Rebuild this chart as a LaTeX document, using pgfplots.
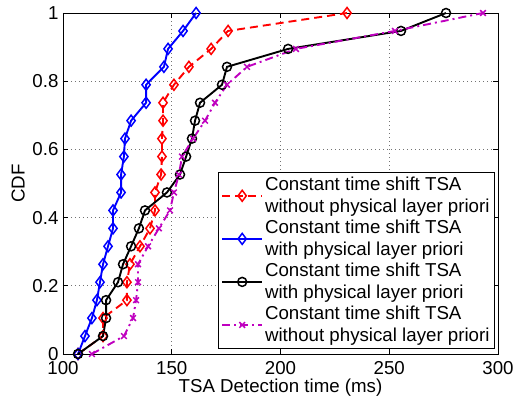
\documentclass[border=0pt]{standalone}
\usepackage{fontspec}
\setmainfont{Liberation Sans}
\usepackage{pgfplots}
\pgfplotsset{compat=1.18}
\definecolor{mymag}{rgb}{0.75,0,0.75}
\newcommand{\bigf}{\fontsize{18.7}{22}\selectfont}
\begin{document}
\begin{tikzpicture}
\useasboundingbox (-63pt,-49pt) rectangle (451pt,354pt);
\begin{axis}[
  scale only axis, width=435pt, height=341pt,
  xmin=100, xmax=300, ymin=0, ymax=1,
  xtick={100,150,200,250,300},
  ytick={0,0.2,0.4,0.6,0.8,1},
  yticklabels={0,0.2,0.4,0.6,0.8,1},
  /pgf/number format/assume math mode=true,
  tick label style={font=\bigf},
  xticklabel style={yshift=-4pt},
  yticklabel style={xshift=-1pt},
  xlabel={TSA Detection time (ms)},
  ylabel={CDF},
  every axis x label/.style={at={(axis description cs:0.5,-0.1)},anchor=center,font=\bigf},
  every axis y label/.style={at={(axis description cs:-0.103,0.5)},rotate=90,anchor=center,font=\bigf},
  tick align=inside, major tick length=5pt,
  axis line style={line width=0.8pt},
  every tick/.style={black, line width=0.6pt},
  grid=major,
  major grid style={black!55, line width=0.6pt, dash pattern=on 1pt off 3pt},
  legend cell align=left,
  legend style={font=\bigf, at={(0.993,0.015)}, anchor=south east, cells={align=left},
    draw=black, line width=0.8pt, inner sep=3pt, row sep=2pt},
  legend image code/.code={\draw[mark repeat=2,mark phase=2] plot coordinates {(0cm,0cm) (0.7cm,0cm) (1.4cm,0cm)};},
]
\addplot[red, line width=1.9pt, dash pattern=on 8pt off 5pt, mark=diamond, mark size=5.5pt, mark options={solid, line width=1.5pt}] coordinates {
(106.9,0) (118.4,0.0526) (118.4,0.1053) (129.4,0.1579) (129.4,0.2105) (130.8,0.2632) (135.4,0.3158) (140.0,0.3684) (142.3,0.4211) (142.3,0.4737) (145.1,0.5263) (145.5,0.5789) (145.5,0.6316) (146.0,0.6842) (146.0,0.7368) (151.0,0.7895) (157.9,0.8421) (168.1,0.8947) (175.9,0.9474) (230.6,1)
};
\addlegendentry{Constant time shift TSA\\without physical layer priori}
\addplot[blue, line width=1.9pt, mark=diamond, mark size=5.5pt, mark options={solid, line width=1.5pt}] coordinates {
(106.9,0) (110.1,0.0526) (113.3,0.1053) (115.6,0.1579) (117.0,0.2105) (118.4,0.2632) (120.7,0.3158) (123.0,0.3684) (123.0,0.4211) (126.7,0.4737) (126.7,0.5263) (128.0,0.5789) (128.5,0.6316) (131.3,0.6842) (138.2,0.7368) (138.2,0.7895) (146.4,0.8421) (148.3,0.8947) (155.2,0.9474) (161.2,1)
};
\addlegendentry{Constant time shift TSA\\with physical layer priori}
\addplot[black, line width=1.9pt, mark=o, mark size=4.5pt, mark options={solid, line width=1.5pt}] coordinates {
(106.9,0) (118.4,0.0526) (119.8,0.1053) (119.8,0.1579) (125.3,0.2105) (127.6,0.2632) (131.3,0.3158) (134.9,0.3684) (137.7,0.4211) (147.8,0.4737) (153.8,0.5263) (156.6,0.5789) (159.3,0.6316) (160.7,0.6842) (163.0,0.7368) (173.1,0.7895) (175.4,0.8421) (203.5,0.8947) (255.4,0.9474) (276.1,1)
};
\addlegendentry{Constant time shift TSA\\with physical layer priori}
\addplot[mymag, line width=1.9pt, dash pattern=on 8pt off 4pt on 2pt off 4pt, mark=x, mark size=4pt, mark options={solid, line width=1.5pt}] coordinates {
(113.3,0) (128.0,0.0526) (132.2,0.1053) (133.6,0.1579) (134.5,0.2105) (134.5,0.2632) (139.1,0.3158) (144.1,0.3684) (149.2,0.4211) (151.0,0.4737) (153.3,0.5263) (154.7,0.5789) (159.8,0.6316) (165.3,0.6842) (169.9,0.7368) (175.4,0.7895) (184.6,0.8421) (207.1,0.8947) (252.6,0.9474) (293.1,1)
};
\addlegendentry{Constant time shift TSA\\without physical layer priori}
\end{axis}
\end{tikzpicture}
\end{document}
